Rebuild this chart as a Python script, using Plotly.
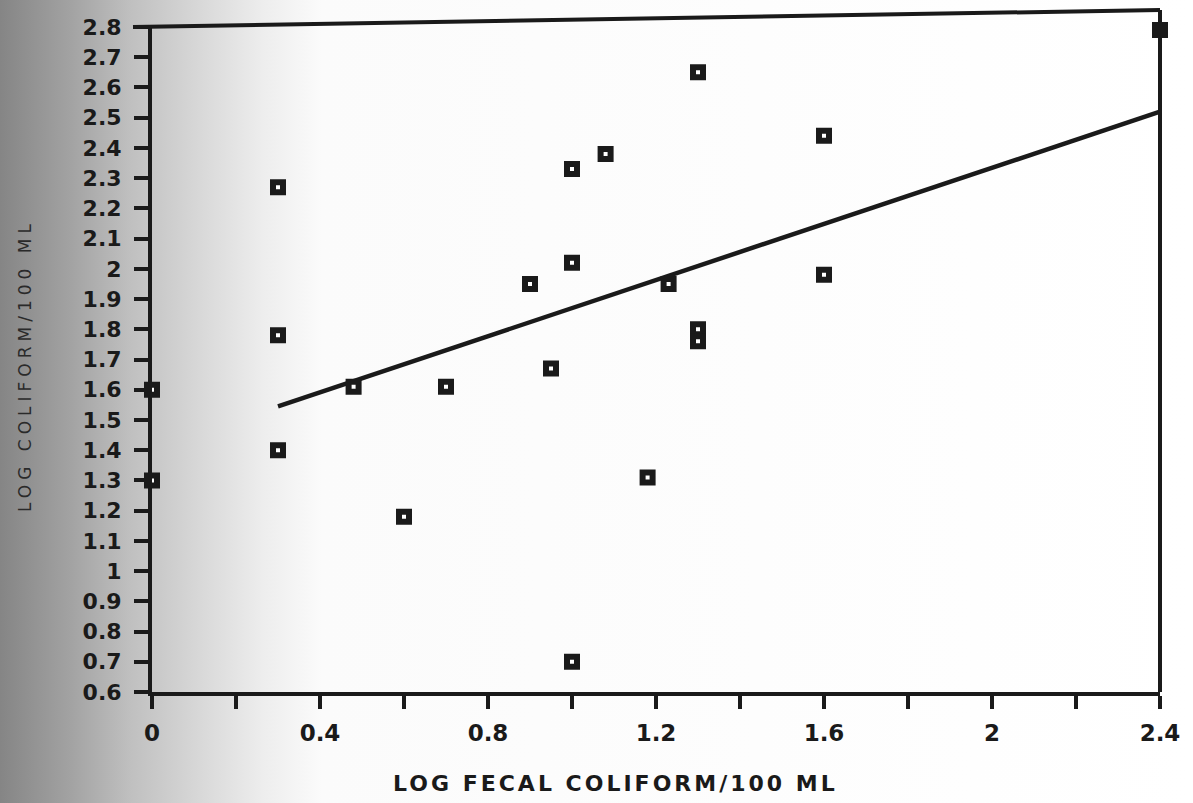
import base64
import plotly.graph_objects as go

# ---- data ----
fecal_x = [0.0, 0.0, 0.3, 0.3, 0.3, 0.48, 0.6, 0.7, 0.9, 0.95, 1.0, 1.0, 1.0,
           1.08, 1.18, 1.23, 1.3, 1.3, 1.3, 1.6, 1.6, 2.4]
coliform_y = [1.6, 1.3, 2.27, 1.78, 1.40, 1.61, 1.18, 1.61, 1.95, 1.67, 2.33, 2.02, 0.70,
              2.38, 1.31, 1.95, 2.65, 1.80, 1.76, 2.44, 1.98, 2.79]
fit_x = [0.3, 2.4]
fit_y = [1.545, 2.52]

x_tickvals = [0, 0.2, 0.4, 0.6, 0.8, 1.0, 1.2, 1.4, 1.6, 1.8, 2.0, 2.2, 2.4]
x_ticktext = ["0", "", "0.4", "", "0.8", "", "1.2", "", "1.6", "", "2", "", "2.4"]
y_tickvals = [0.6, 0.7, 0.8, 0.9, 1.0, 1.1, 1.2, 1.3, 1.4, 1.5, 1.6, 1.7, 1.8, 1.9,
              2.0, 2.1, 2.2, 2.3, 2.4, 2.5, 2.6, 2.7, 2.8]
y_ticktext = ["0.6", "0.7", "0.8", "0.9", "1", "1.1", "1.2", "1.3", "1.4", "1.5", "1.6",
              "1.7", "1.8", "1.9", "2", "2.1", "2.2", "2.3", "2.4", "2.5", "2.6", "2.7", "2.8"]

x_title = "LOG FECAL COLIFORM/100 ML"
y_title = "LOG COLIFORM/100 ML"

# ---- figure geometry ----
W, H = 1193, 803
ML, MR, MT, MB = 152, 33, 27, 111
PW, PH = W - ML - MR, H - MT - MB
INK = "#1a1a1a"

# scanned-paper shading at the left edge (decorative background)
svg = (
    '<svg xmlns="http://www.w3.org/2000/svg" width="%d" height="%d" preserveAspectRatio="none">'
    '<defs><linearGradient id="g" x1="0" y1="0" x2="1" y2="0">'
    '<stop offset="0" stop-color="#858585"/>'
    '<stop offset="0.06" stop-color="#a3a3a3"/>'
    '<stop offset="0.11" stop-color="#c0c0c0"/>'
    '<stop offset="0.17" stop-color="#d9d9d9"/>'
    '<stop offset="0.22" stop-color="#ededed"/>'
    '<stop offset="0.27" stop-color="#fbfbfb"/>'
    '<stop offset="1" stop-color="#ffffff"/>'
    '</linearGradient></defs><rect width="%d" height="%d" fill="url(#g)"/></svg>'
) % (W, H, W, H)
svg_uri = "data:image/svg+xml;base64," + base64.b64encode(svg.encode()).decode()

fig = go.Figure()

fig.add_trace(go.Scatter(
    x=fit_x, y=fit_y, mode="lines",
    line=dict(color=INK, width=4.5),
    hoverinfo="skip", showlegend=False, cliponaxis=False,
))
fig.add_trace(go.Scatter(
    x=fecal_x, y=coliform_y, mode="markers",
    marker=dict(symbol="square", size=10, color="white",
                line=dict(color=INK, width=6)),
    showlegend=False, cliponaxis=False,
))

fig.update_xaxes(
    range=[0, 2.4], tickvals=x_tickvals, ticktext=x_ticktext,
    showgrid=False, zeroline=False,
    showline=True, linecolor=INK, linewidth=4,
    ticks="outside", ticklen=13, tickwidth=3.5, tickcolor=INK,
    tickfont=dict(family="DejaVu Sans", size=23, color=INK, weight="bold"),
    ticklabelstandoff=4,
)
fig.update_yaxes(
    range=[0.6, 2.8], tickvals=y_tickvals, ticktext=y_ticktext,
    showgrid=False, zeroline=False,
    showline=True, linecolor=INK, linewidth=4,
    ticks="outside", ticklen=14, tickwidth=3.5, tickcolor=INK,
    tickfont=dict(family="DejaVu Sans", size=22, color=INK, weight="bold"),
    ticklabelstandoff=8,
)

# frame: right edge and the (slightly skewed) top edge of the scanned plot box
top_right = 1 + 17 / PH
fig.add_shape(type="line", xref="paper", yref="paper", x0=1, x1=1, y0=0, y1=top_right,
              line=dict(color=INK, width=4))
fig.add_shape(type="line", xref="paper", yref="paper", x0=-19 / PW, x1=1, y0=1, y1=top_right,
              line=dict(color=INK, width=4))

fig.add_annotation(
    text='<span style="letter-spacing:3px">%s</span>' % x_title,
    xref="paper", yref="paper", x=(615 - ML) / PW, y=(MT + PH - 783) / PH,
    xanchor="center", yanchor="middle", showarrow=False,
    font=dict(family="DejaVu Sans", size=22, color=INK, weight="bold"),
)
fig.add_annotation(
    text='<span style="letter-spacing:5px">%s</span>' % y_title,
    xref="paper", yref="paper", x=(25 - ML) / PW, y=(MT + PH - 366) / PH,
    xanchor="center", yanchor="middle", showarrow=False, textangle=-90,
    font=dict(family="DejaVu Sans", size=17, color="#2a2a2a"),
)

fig.update_layout(
    width=W, height=H,
    margin=dict(l=ML, r=MR, t=MT, b=MB, autoexpand=False),
    paper_bgcolor="white", plot_bgcolor="rgba(0,0,0,0)",
    images=[dict(source=svg_uri, xref="paper", yref="paper",
                 x=-ML / PW, y=1 + MT / PH, sizex=W / PW, sizey=H / PH,
                 xanchor="left", yanchor="top", sizing="stretch", layer="below")],
    showlegend=False,
)

fig.write_html("out.html")
